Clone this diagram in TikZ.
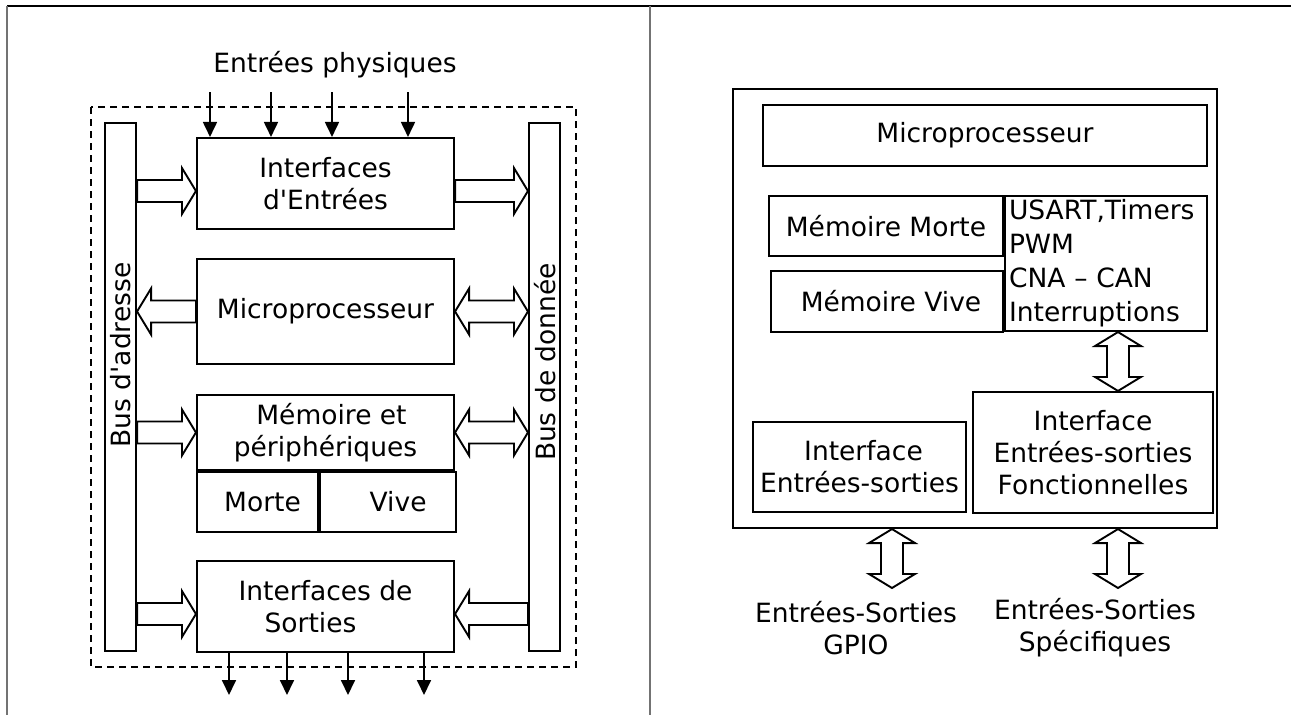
\documentclass[tikz,border=0pt]{standalone}
\usepackage{fontspec}
\setmainfont{DejaVu Sans}[Ligatures=TeXOff]
\usetikzlibrary{arrows.meta,calc,positioning}

% hollow block arrows between two points
\newcommand{\fatone}[2]{%
  \path #1 coordinate (fa) #2 coordinate (fb);
  \coordinate (fh) at ($(fb)!14pt!(fa)$);
  \draw[fat] ($(fa)!11pt!90:(fb)$) -- ($(fh)!11pt!90:(fb)$) -- ($(fh)!23pt!90:(fb)$)
    -- (fb) -- ($(fh)!23pt!-90:(fb)$) -- ($(fh)!11pt!-90:(fb)$) -- ($(fa)!11pt!-90:(fb)$) -- cycle;}
\newcommand{\fattwo}[2]{%
  \path #1 coordinate (fa) #2 coordinate (fb);
  \coordinate (fh) at ($(fb)!14pt!(fa)$);
  \coordinate (fg) at ($(fa)!14pt!(fb)$);
  \draw[fat] (fa) -- ($(fg)!23pt!90:(fb)$) -- ($(fg)!11pt!90:(fb)$) -- ($(fh)!11pt!90:(fb)$)
    -- ($(fh)!23pt!90:(fb)$) -- (fb) -- ($(fh)!23pt!-90:(fb)$) -- ($(fh)!11pt!-90:(fb)$)
    -- ($(fg)!11pt!-90:(fb)$) -- ($(fg)!23pt!-90:(fb)$) -- cycle;}

\begin{document}
\begin{tikzpicture}
  [x=1pt,y=-1pt,
  every node/.style={font=\fontsize{26.5}{32}\selectfont},
  box/.style={rectangle,draw,line width=2.1pt,inner sep=0pt,align=center},
  fat/.style={draw,fill=white,line width=1.9pt,line join=miter},
  sig/.style={line width=1.8pt,-{Triangle[length=15pt,width=14pt]}},
  frame/.style={line width=1.8pt}]

\useasboundingbox (0,0) rectangle (1291,715);

% page frame
\draw[frame] (7,6) -- (1291,6);
\draw[frame,black!55] (7,6) -- (7,715);
\draw[frame,black!55] (650,6) -- (650,715);

% left: structure of a microcomputer
\draw[line width=1.8pt,dash pattern=on 7pt off 5pt] (91,107) rectangle (576,667);

\node (phys) at (335,65) {Entrées physiques};

\node[box,minimum width=31pt,minimum height=528pt] (adr) at (120.5,387) {};
\node[box,minimum width=31pt,minimum height=528pt] (don) at (544.5,387) {};
\node[rotate=90] (adr-txt) at (121,355) {Bus d'adresse};
\node[rotate=90] (don-txt) at (545,362) {Bus de donnée};

\node[box,minimum width=257pt,minimum height=91pt] (inE) at (325.5,183.5) {Interfaces\\d'Entrées};
\node[box,minimum width=257pt,minimum height=105pt] (cpu) at (325.5,311.5) {Microprocesseur};
\node[box,minimum width=257pt,minimum height=75pt] (mem) at (325.5,432.5) {\hspace*{12pt}Mémoire et\\périphériques};
\node[box,minimum width=121pt,minimum height=60pt,anchor=north west] (morte) at (mem.south west) {\hspace*{10pt}Morte};
\node[box,minimum width=136pt,minimum height=60pt,anchor=north west] (vive) at (morte.north east) {\hspace*{20pt}Vive};
\node[box,minimum width=257pt,minimum height=91pt] (out) at (325.5,606.5) {Interfaces de\\Sorties\hspace*{30pt}};

% physical inputs and outputs
\foreach \x [count=\i] in {210,271,332,408}
  \draw[sig] (\x,92) coordinate (in\i) -- (in\i |- inE.north);
\foreach \x [count=\i] in {229,287,348,424}
  \draw[sig] (out.south -| \x,0) coordinate (o\i) -- (\x,695);

% buses
\fatone{([yshift=-7.5pt]inE.west -| adr.east)}{([yshift=-7.5pt]inE.west)}
\fatone{([yshift=-7.5pt]inE.east)}{([yshift=-7.5pt]inE.east -| don.west)}
\fatone{(cpu.west)}{(cpu.west -| adr.east)}
\fattwo{(cpu.east)}{(cpu.east -| don.west)}
\fatone{(mem.west -| adr.east)}{(mem.west)}
\fattwo{(mem.east)}{(mem.east -| don.west)}
\fatone{([yshift=-7.5pt]out.west -| adr.east)}{([yshift=-7.5pt]out.west)}
\fatone{([yshift=-7.5pt]out.east -| don.west)}{([yshift=-7.5pt]out.east)}

% right: microcontroller
\node[box,minimum width=484pt,minimum height=439pt] (mcu) at (975,308.5) {};
\node[box,minimum width=444pt,minimum height=61pt] (upc) at (985,135.5) {Microprocesseur};
\node[box,minimum width=234pt,minimum height=60pt] (rom) at (886,226) {Mémoire Morte};
\node[box,minimum width=232pt,minimum height=61pt] (ram) at (887,301.5) {\hspace*{8pt}Mémoire Vive};
\node[box,minimum width=202pt,minimum height=135pt,align=left,text width=194pt,
  font=\fontsize{26.5}{34}\selectfont] (per) at (1106,263.5)
  {USART,Timers\\PWM\\CNA – CAN\\Interruptions};
\node[box,minimum width=213pt,minimum height=90pt] (gpio) at (859.5,467) {\hspace*{8pt}Interface\\Entrées-sorties};
\node[box,minimum width=240pt,minimum height=121pt] (fio) at (1093,452.5) {Interface\\Entrées-sorties\\Fonctionnelles};

\node[align=center] (gpio-txt) at (856,628) {Entrées-Sorties\\GPIO};
\node[align=center] (spec-txt) at (1095,628) {Entrées-Sorties\\Spécifiques};

\coordinate (gpio-end) at (892,588);
\coordinate (spec-end) at (1118,588);
\fattwo{(per.south -| spec-end)}{(fio.north -| spec-end)}
\fattwo{(mcu.south -| gpio-end)}{(gpio-end)}
\fattwo{(mcu.south -| spec-end)}{(spec-end)}

\end{tikzpicture}
\end{document}
